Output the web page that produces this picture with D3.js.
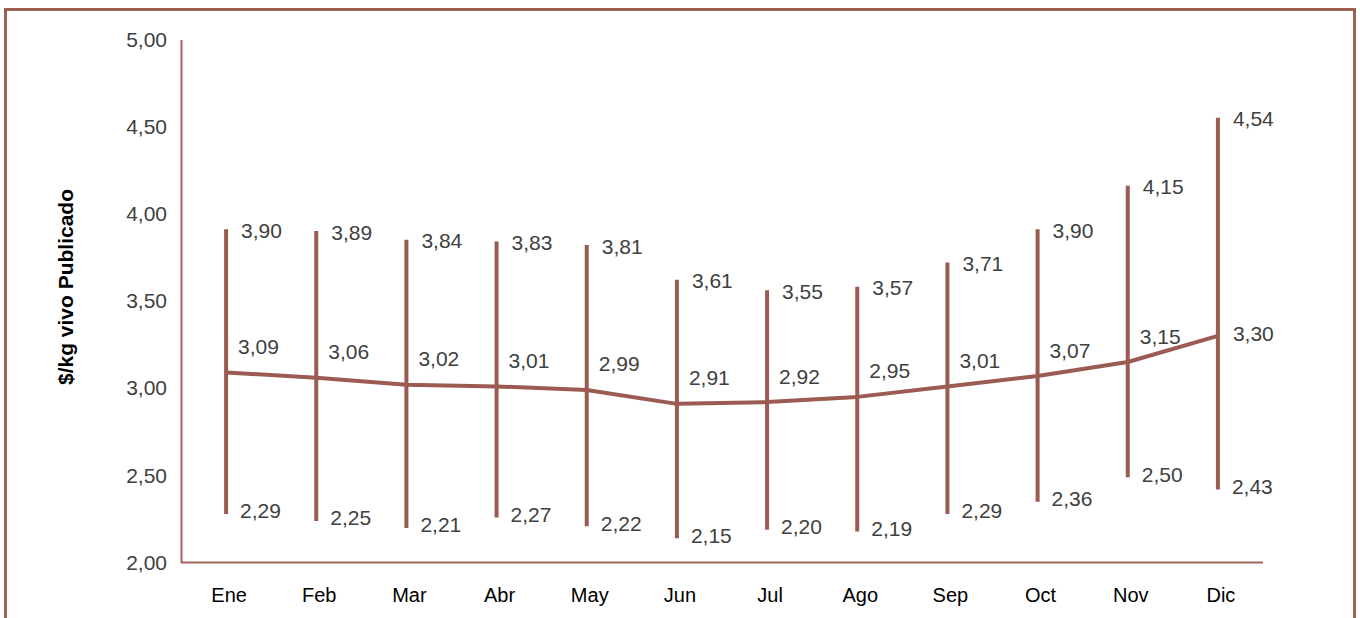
<!DOCTYPE html>
<html>
<head>
<meta charset="utf-8">
<script src="https://cdn.jsdelivr.net/npm/d3@7"></script>
<style>
  html, body { margin: 0; padding: 0; background: #fff; }
  svg { display: block; }
  text { font-family: "Liberation Sans", Arial, sans-serif; }
</style>
</head>
<body>
<svg id="chart" width="1360" height="618"></svg>
<script>
const months = ["Ene","Feb","Mar","Abr","May","Jun","Jul","Ago","Sep","Oct","Nov","Dic"];
const maxValues = [3.90,3.89,3.84,3.83,3.81,3.61,3.55,3.57,3.71,3.90,4.15,4.54];
const avgValues = [3.09,3.06,3.02,3.01,2.99,2.91,2.92,2.95,3.01,3.07,3.15,3.30];
const minValues = [2.29,2.25,2.21,2.27,2.22,2.15,2.20,2.19,2.29,2.36,2.50,2.43];
const yTicks = [2.0,2.5,3.0,3.5,4.0,4.5,5.0];
const yTitle = "$/kg vivo Publicado";

const color = "#9b5b52";
const axisColor = "#a3675e";
const textColor = "#404040";
const fmt = v => v.toFixed(2).replace(".", ",");

const svg = d3.select("#chart");

// outer frame
svg.append("rect")
  .attr("x", 5.5).attr("y", 9.5)
  .attr("width", 1349).attr("height", 640)
  .attr("fill", "none").attr("stroke", "#9e5f55").attr("stroke-width", 3);

const x = d3.scaleBand().domain(months).range([181, 1263]);
const cx = m => x(m) + x.bandwidth() / 2;
const y = d3.scaleLinear().domain([2, 5]).range([562.5, 39.5]);

// y axis
const yAxis = svg.append("g").attr("transform", "translate(181,0)")
  .call(d3.axisLeft(y).tickValues(yTicks).tickFormat(fmt).tickSize(0).tickPadding(14));
yAxis.select(".domain").attr("stroke", axisColor).attr("stroke-width", 2);
yAxis.selectAll("text").attr("fill", textColor).attr("font-size", 21)
  .style("font-family", "'Liberation Sans', Arial, sans-serif");

// x axis
const xAxis = svg.append("g").attr("transform", "translate(0,562.5)")
  .call(d3.axisBottom(x).tickSize(0).tickPadding(0));
xAxis.select(".domain").attr("stroke", axisColor).attr("stroke-width", 2)
  .attr("d", "M181,0H1263");
xAxis.selectAll("text").attr("fill", "#000").attr("font-size", 20)
  .attr("dy", null).attr("y", 34).attr("dx", 3).attr("dominant-baseline", "middle")
  .style("font-family", "'Liberation Sans', Arial, sans-serif");

// y title
svg.append("text")
  .attr("transform", "translate(67,287) rotate(-90)")
  .attr("text-anchor", "middle").attr("dominant-baseline", "middle")
  .attr("font-size", 21).attr("font-weight", "bold").attr("fill", "#000")
  .text(yTitle);

// range bars
const data = months.map((m, i) => ({ m, max: maxValues[i], avg: avgValues[i], min: minValues[i], i }));

svg.append("g").selectAll("line").data(data).join("line")
  .attr("x1", d => cx(d.m)).attr("x2", d => cx(d.m))
  .attr("y1", d => y(d.max)).attr("y2", d => y(d.min))
  .attr("stroke", color).attr("stroke-width", 4).attr("stroke-linecap", "square");

// average line
const line = d3.line().x(d => cx(d.m)).y(d => y(d.avg));
svg.append("path").datum(data).attr("d", line)
  .attr("fill", "none").attr("stroke", color).attr("stroke-width", 4)
  .attr("stroke-linejoin", "round");

// labels
const lab = svg.append("g").attr("font-size", 21).attr("fill", textColor)
  .attr("dominant-baseline", "middle");

lab.selectAll("text.max").data(data).join("text").attr("class", "max")
  .attr("x", d => cx(d.m) + 15).attr("y", d => y(d.max) + 1)
  .text(d => fmt(d.max));

lab.selectAll("text.min").data(data).join("text").attr("class", "min")
  .attr("x", d => cx(d.m) + 14).attr("y", d => y(d.min) + 1)
  .text(d => fmt(d.min));

lab.selectAll("text.avg").data(data).join("text").attr("class", "avg")
  .attr("x", d => d.i === 11 ? cx(d.m) + 15 : cx(d.m) + 12)
  .attr("y", d => d.i === 11 ? y(d.avg) : y(d.avg) - 24)
  .text(d => fmt(d.avg));
</script>
</body>
</html>
